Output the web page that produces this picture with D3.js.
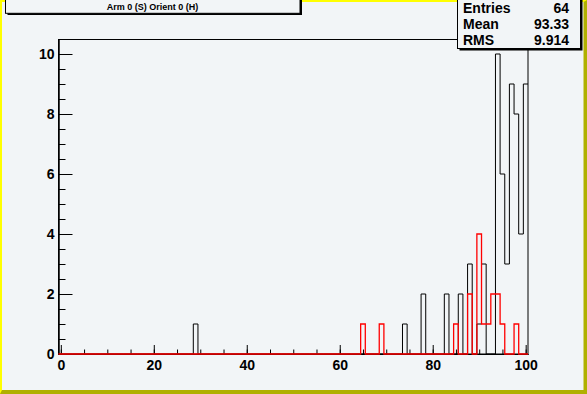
<!DOCTYPE html>
<html>
	<head>
		<meta charset = "utf-8">
		<script src = "https://cdn.jsdelivr.net/npm/d3@7"></script>
		<style>
			body { margin: 0; background: #f2f5f7; }
			text { font-family: "Liberation Sans", Arial, sans-serif; font-weight: bold; }
		</style>
		<script>
			// histogram contents (bins of width 1, centred on integers 0..100)
			var blackBins   = [29, 74, 78, 83, 86, 88, 90, 91, 94, 95, 96, 97, 98, 99, 100];
			var blackCounts = [ 1,  1,  2,  2,  2,  3,  1,  3, 10,  6,  3,  9,  8,  4,   9];
			var redBins     = [65, 69, 85, 88, 90, 91, 92, 93, 94, 95, 98];
			var redCounts   = [ 1,  1,  1,  2,  4,  1,  1,  2,  2,  1,  1];

			var xTicks = [0, 20, 40, 60, 80, 100];
			var yTicks = [0, 2, 4, 6, 8, 10];
			var title = "Arm 0 (S) Orient 0 (H)";
			var statNames  = ["Entries", "Mean", "RMS"];
			var statValues = ["64", "93.33", "9.914"];

			function fullHist(bins, counts){
				var h = d3.range(0, 101).map(function(){ return 0; });
				bins.forEach(function(b, i){ h[b] = counts[i]; });
				return h;
			}

			function draw(){
				"use strict";
				var W = 587, H = 394;
				var svg = d3.select("body").append("svg")
							.attr("width", W).attr("height", H);

				// canvas border
				svg.append("rect").attr("x", 0).attr("y", 0).attr("width", W).attr("height", H).attr("fill", "#b0b000");
				svg.append("path").attr("d", "M0,0H" + W + "L" + (W - 3.5) + ",2H2V" + (H - 4) + "L0," + H + "Z").attr("fill", "#ffff00");
				svg.append("rect").attr("x", 2).attr("y", 2).attr("width", W - 5.5).attr("height", H - 6).attr("fill", "#f2f5f7");

				var x = d3.scaleLinear().domain([-0.5, 100.5]).range([58.5, 528]);
				var y = d3.scaleLinear().domain([0, 10.5]).range([354, 39]);

				// axes
				var yMinor = svg.append("g").attr("transform", "translate(58.5,0)")
								.call(d3.axisLeft(y).tickValues(d3.range(0, 10.5, 0.5)).tickSize(-7).tickSizeOuter(0).tickFormat(""));
				var yMajor = svg.append("g").attr("transform", "translate(58.5,0)")
								.call(d3.axisLeft(y).tickValues(yTicks).tickSize(-14).tickSizeOuter(0).tickPadding(4));
				var xMinor = svg.append("g").attr("transform", "translate(0,354)")
								.call(d3.axisBottom(x).tickValues(d3.range(0, 101, 5)).tickSize(-4.5).tickSizeOuter(0).tickFormat(""));
				var xMajor = svg.append("g").attr("transform", "translate(0,354)")
								.call(d3.axisBottom(x).tickValues(xTicks).tickSize(-9).tickSizeOuter(0).tickPadding(6));
				svg.selectAll(".tick line").attr("stroke", "#000");
				svg.selectAll(".domain").attr("stroke", "#000");
				svg.selectAll(".tick text").attr("font-size", 14).attr("fill", "#000")
					.attr("font-family", "Liberation Sans, Arial, sans-serif").attr("font-weight", "bold");

				// frame
				svg.append("rect").attr("x", 58.5).attr("y", 39.5).attr("width", 528 - 58.5).attr("height", 354 - 39.5)
					.attr("fill", "none").attr("stroke", "#000");

				// histograms
				var line = d3.line().x(function(d){ return x(d[0]); }).y(function(d){ return y(d[1]); });
				function steps(h){
					var pts = [];
					h.forEach(function(c, i){ pts.push([i - 0.5, c]); pts.push([i + 0.5, c]); });
					return pts;
				}
				svg.append("path").attr("d", line(steps(fullHist(blackBins, blackCounts))))
					.attr("fill", "none").attr("stroke", "#000").attr("stroke-width", 1);
				svg.append("path").attr("d", line(steps(fullHist(redBins, redCounts))))
					.attr("fill", "none").attr("stroke", "#ff0000").attr("stroke-width", 1.3);

				// title box
				svg.append("rect").attr("x", 7.5).attr("y", -5).attr("width", 294.5).attr("height", 20).attr("fill", "#000");
				svg.append("rect").attr("x", 5.5).attr("y", -5).attr("width", 294.5).attr("height", 18.3)
					.attr("fill", "#f2f5f7").attr("stroke", "#000");
				svg.append("text").attr("x", 152.5).attr("y", 10).attr("text-anchor", "middle")
					.attr("font-size", 9).text(title);

				// stats box
				svg.append("rect").attr("x", 459.5).attr("y", -5).attr("width", 123).attr("height", 55.5).attr("fill", "#000");
				svg.append("rect").attr("x", 457.5).attr("y", -5).attr("width", 123).attr("height", 53.5)
					.attr("fill", "#f2f5f7").attr("stroke", "#000");
				var stats = svg.append("g").selectAll("g").data(statNames).enter().append("g");
				stats.append("text").attr("x", 463).attr("y", function(d, i){ return 13 + i * 16; })
					.attr("font-size", 14).text(function(d){ return d; });
				stats.append("text").attr("x", 569).attr("y", function(d, i){ return 13 + i * 16; })
					.attr("font-size", 14).attr("text-anchor", "end").text(function(d, i){ return statValues[i]; });
			}
		</script>
	</head>
	<body>
		<script>
			draw();
		</script>
	</body>
</html>
